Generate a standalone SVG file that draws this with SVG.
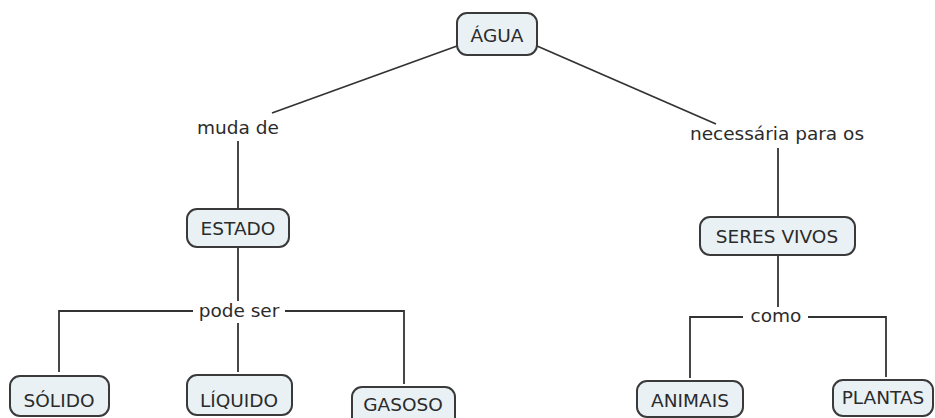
<svg xmlns="http://www.w3.org/2000/svg" width="935" height="418" viewBox="0 0 935 418">
  <style>
    .node rect { fill: #e9f1f5; stroke: #3a3a3a; stroke-width: 2; }
    text { font-family: "DejaVu Sans", Verdana, sans-serif; font-size: 18.5px; fill: #2b2b2b; text-anchor: middle; }
    .links line, .links polyline { fill: none; stroke: #333; stroke-width: 1.8; }
  </style>
  <rect width="935" height="418" fill="#ffffff"/>

  <!-- connectors and their linking phrases -->
  <g id="links" class="links">
    <line x1="457" y1="46" x2="272" y2="113"/>
    <line x1="238" y1="141" x2="238" y2="209"/>
    <line x1="238" y1="247" x2="238" y2="301"/>
    <polyline points="193,311 59,311 59,372"/>
    <line x1="238" y1="323" x2="238" y2="372"/>
    <polyline points="285,311 404,311 404,384"/>
    <line x1="537" y1="46" x2="716" y2="124"/>
    <line x1="778" y1="148" x2="778" y2="217"/>
    <line x1="778" y1="255" x2="778" y2="307"/>
    <polyline points="743,317 690,317 690,378"/>
    <polyline points="808,317 886,317 886,377"/>
    <text x="238" y="134">muda de</text>
    <text x="239" y="317">pode ser</text>
    <text x="777" y="140">necessária para os</text>
    <text x="776" y="322">como</text>
  </g>

  <g id="agua" class="node">
    <rect x="457" y="13" width="80" height="42" rx="10"/>
    <text x="497" y="42">ÁGUA</text>
  </g>
  <g id="estado" class="node">
    <rect x="187" y="209" width="102" height="38" rx="10"/>
    <text x="238" y="235">ESTADO</text>
  </g>
  <g id="seres-vivos" class="node">
    <rect x="700" y="217" width="155" height="38" rx="10"/>
    <text x="777" y="243">SERES VIVOS</text>
  </g>
  <g id="solido" class="node">
    <rect x="10" y="376" width="99" height="40" rx="10"/>
    <text x="59" y="407">SÓLIDO</text>
  </g>
  <g id="liquido" class="node">
    <rect x="187" y="375" width="105" height="40" rx="10"/>
    <text x="239" y="407">LÍQUIDO</text>
  </g>
  <g id="gasoso" class="node">
    <rect x="352" y="387" width="103" height="40" rx="10"/>
    <text x="403" y="411">GASOSO</text>
  </g>
  <g id="animais" class="node">
    <rect x="637" y="381" width="106" height="36" rx="10"/>
    <text x="690" y="407">ANIMAIS</text>
  </g>
  <g id="plantas" class="node">
    <rect x="833" y="380" width="100" height="36" rx="10"/>
    <text x="883" y="404">PLANTAS</text>
  </g>
</svg>
